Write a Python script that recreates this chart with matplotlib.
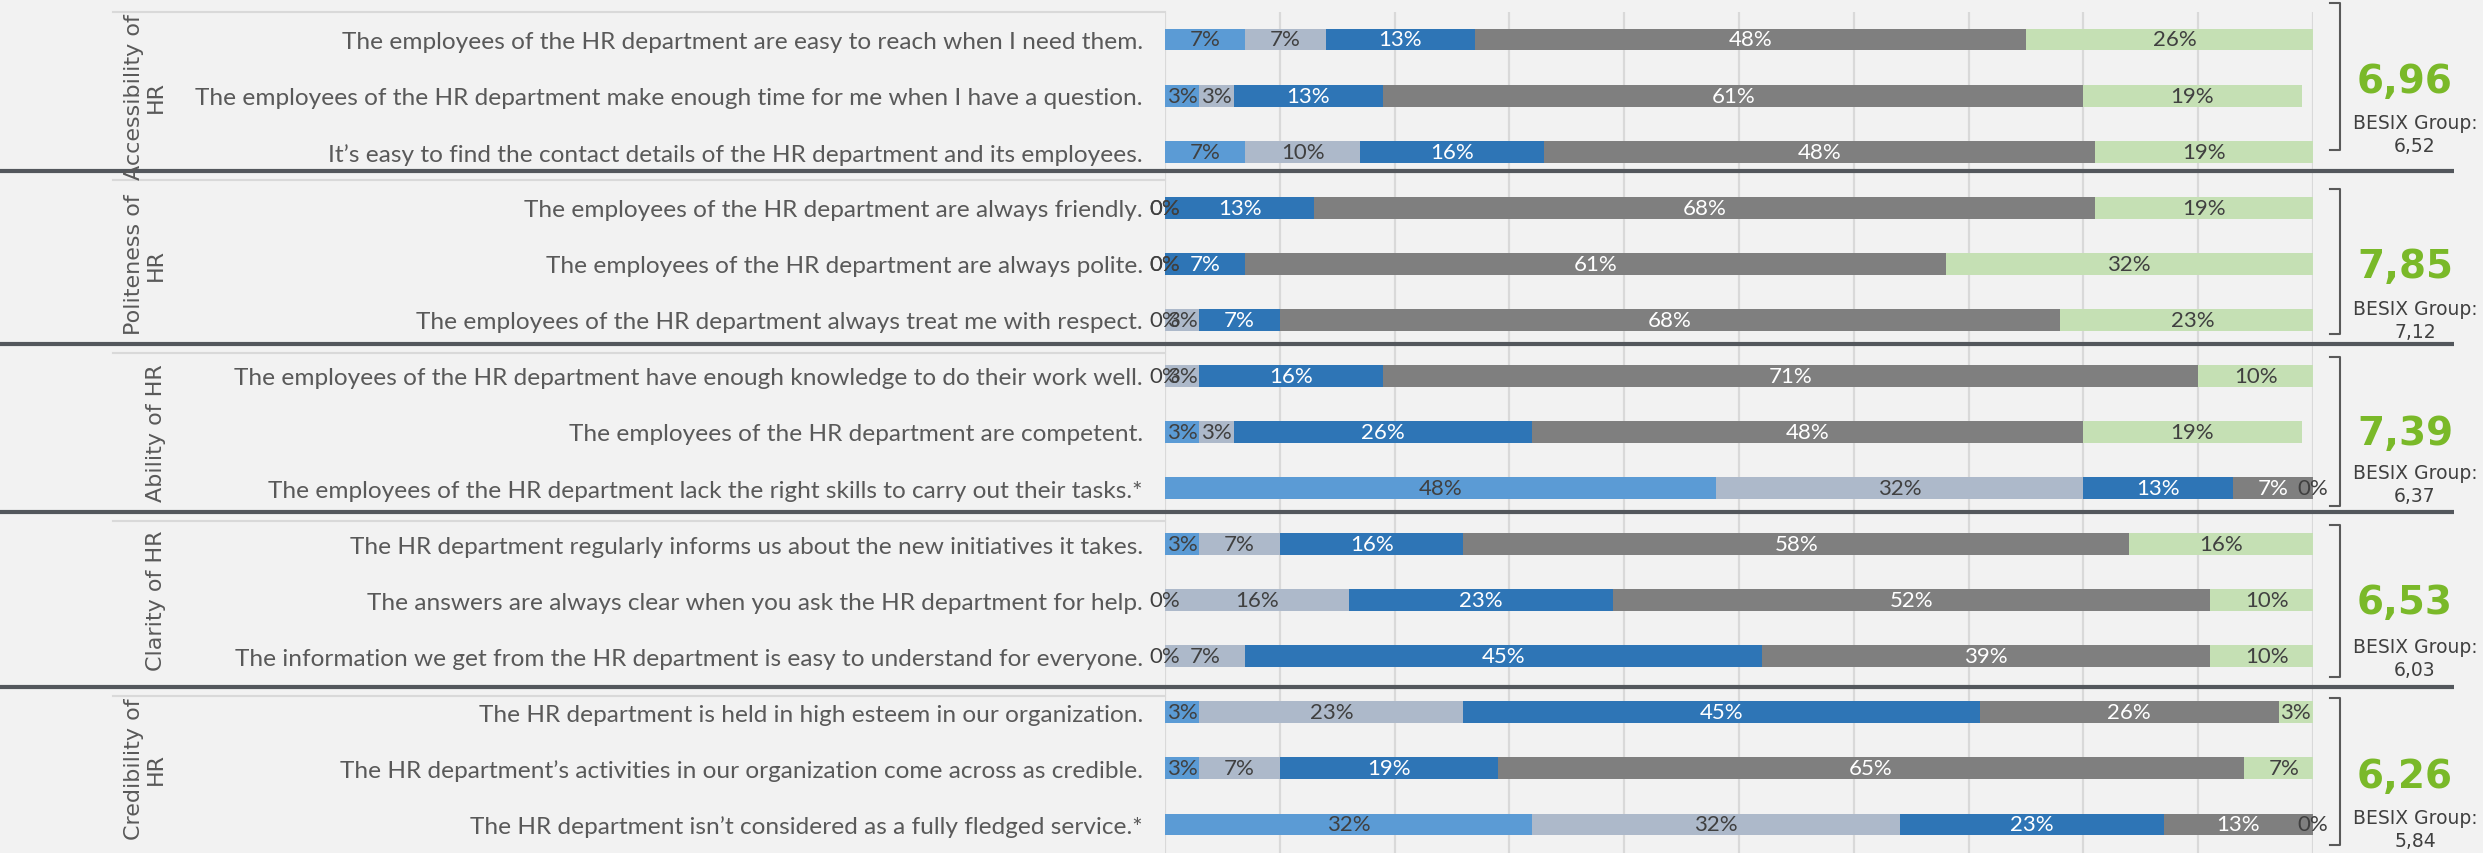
import numpy as np
import matplotlib
matplotlib.use("Agg")
import matplotlib.pyplot as plt

questions = [
    "The employees of the HR department are easy to reach when I need them.",
    "The employees of the HR department make enough time for me when I have a question.",
    "It\u2019s easy to find the contact details of the HR department and its employees.",
    "The employees of the HR department are always friendly.",
    "The employees of the HR department are always polite.",
    "The employees of the HR department always treat me with respect.",
    "The employees of the HR department have enough knowledge to do their work well.",
    "The employees of the HR department are competent.",
    "The employees of the HR department lack the right skills to carry out their tasks.*",
    "The HR department regularly informs us about the new initiatives it takes.",
    "The answers are always clear when you ask the HR department for help.",
    "The information we get from the HR department is easy to understand for everyone.",
    "The HR department is held in high esteem in our organization.",
    "The HR department\u2019s activities in our organization come across as credible.",
    "The HR department isn\u2019t considered as a fully fledged service.*",
]

# answer shares (%) per question, one list per answer category
s1 = [7, 3, 7, 0, 0, 0, 0, 3, 48, 3, 0, 0, 3, 3, 32]
s2 = [7, 3, 10, 0, 0, 3, 3, 3, 32, 7, 16, 7, 23, 7, 32]
s3 = [13, 13, 16, 13, 7, 7, 16, 26, 13, 16, 23, 45, 45, 19, 23]
s4 = [48, 61, 48, 68, 61, 68, 71, 48, 7, 58, 52, 39, 26, 65, 13]
s5 = [26, 19, 19, 19, 32, 23, 10, 19, 0, 16, 10, 10, 3, 7, 0]

categories = ["Accessibility of\nHR", "Politeness of\nHR", "Ability of HR",
              "Clarity of HR", "Credibility of\nHR"]
scores = [6.96, 7.85, 7.39, 6.53, 6.26]
group_scores = [6.52, 7.12, 6.37, 6.03, 5.84]

series = [s1, s2, s3, s4, s5]
colors = ["#5b9bd5", "#adb9ca", "#2e75b6", "#7f7f7f", "#c5e0b4"]
text_colors = ["#404040", "#404040", "white", "white", "#404040"]

W, H = 2483, 854
BG = "#f2f2f2"
row0, pitch = 40.5, 56.07          # pixel centre of first row, row spacing
x0_px, x1_px = 1165, 2313          # 0% and 100% in pixels
seps = [172, 345, 513, 688]
brackets = [(4, 151), (190, 335), (358, 507), (526, 678), (699, 846)]
score_y = [79, 264, 431, 600, 774]
group_y = [122, 308, 472, 646, 817]

label_font = "Lato"


def comma(v):
    return f"{v:.2f}".replace(".", ",")


fig = plt.figure(figsize=(W / 100, H / 100), dpi=100, facecolor=BG)

ax = fig.add_axes([x0_px / W, 0, (x1_px - x0_px) / W, 1])
ax.set_facecolor(BG)
ax.set_xlim(0, 100)
ax.set_ylim((H - row0) / pitch, -row0 / pitch)
for sp in ax.spines.values():
    sp.set_visible(False)

# vertical gridlines every 10 %
grid_top = (13 - row0) / pitch
ax.vlines(np.arange(0, 101, 10), grid_top, (H - row0) / pitch,
          color="#d9d9d9", lw=1.6, zorder=0)

y = np.arange(len(questions))
left = np.zeros(len(questions))
for vals, c, tc in zip(series, colors, text_colors):
    vals = np.array(vals, dtype=float)
    ax.barh(y, vals, left=left, height=0.39, color=c, zorder=2)
    for yi, (l, v) in enumerate(zip(left, vals)):
        ax.text(l + v / 2, yi, f"{int(v)}%", ha="center", va="center",
                color=tc, fontsize=16, family=label_font, zorder=3)
    left += vals

ax.set_yticks(y)
ax.set_yticklabels(questions, fontsize=17.6, family=label_font, color="#595959")
ax.tick_params(axis="y", length=0, pad=16)
ax.set_xticks([])

# overlay in pixel coordinates for separators, brackets and side texts
ov = fig.add_axes([0, 0, 1, 1], zorder=5)
ov.set_xlim(0, W)
ov.set_ylim(H, 0)
ov.axis("off")
ov.patch.set_visible(False)

box_tops = [13] + [s + 9 for s in seps]
for bt in box_tops:
    ov.plot([113, x0_px], [bt, bt], color="#d9d9d9", lw=1.5)
for s in seps:
    ov.plot([0, 2454], [s, s], color="#53575c", lw=3, solid_capstyle="butt")

for k, cat in enumerate(categories):
    rows = np.arange(3 * k, 3 * k + 3)
    cy = row0 + pitch * rows.mean()
    ov.text(166, cy, cat, rotation=90, ha="right", va="center",
            multialignment="center", fontsize=16, color="#595959",
            family="DejaVu Sans", linespacing=1.15)

    top, bot = brackets[k]
    ov.plot([2330, 2340, 2340, 2330], [top, top, bot, bot],
            color="#595959", lw=1.5)

    ov.text(2405, score_y[k] + 14, comma(scores[k]),
            ha="center", va="baseline", fontsize=28, fontweight="bold",
            color="#7ab929", family="DejaVu Sans")
    ov.text(2415, group_y[k] + 7, "BESIX Group:", ha="center", va="baseline",
            fontsize=13.5, color="#404040", family="DejaVu Sans")
    ov.text(2415, group_y[k] + 30, comma(group_scores[k]), ha="center",
            va="baseline", fontsize=13.5, color="#404040",
            family="DejaVu Sans")

fig.savefig("out.png", dpi=100, facecolor=BG)
